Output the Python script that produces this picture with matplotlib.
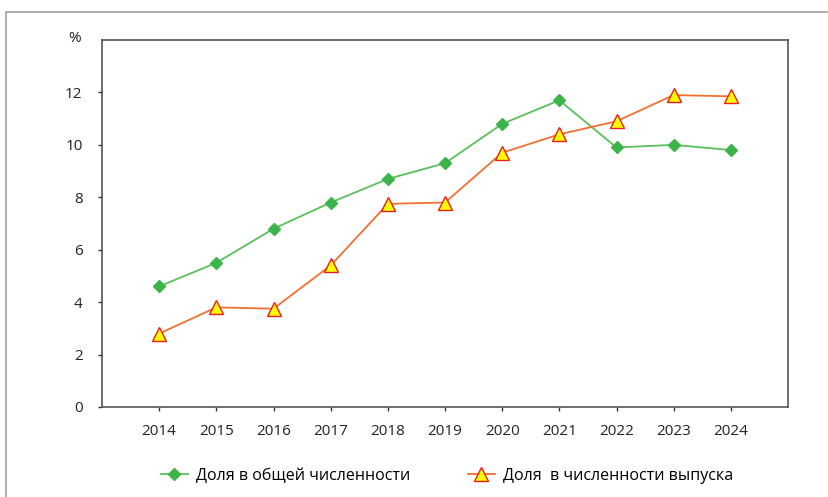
import matplotlib.pyplot as plt
from matplotlib.patches import Rectangle

plt.rcParams['font.family'] = ['Open Sans', 'DejaVu Sans']

years = [2014, 2015, 2016, 2017, 2018, 2019, 2020, 2021, 2022, 2023, 2024]
dolya_obshchey = [4.6, 5.5, 6.8, 7.8, 8.7, 9.3, 10.8, 11.7, 9.9, 10.0, 9.8]
dolya_vypuska = [2.8, 3.8, 3.75, 5.4, 7.75, 7.8, 9.7, 10.4, 10.9, 11.9, 11.85]
yticks = [0, 2, 4, 6, 8, 10, 12]

fig = plt.figure(figsize=(8.29, 4.97), dpi=100)
W, H = 829, 497
ax = fig.add_axes([102 / W, 1 - 407 / H, 686 / W, 367 / H])

# серая рамка вокруг всего рисунка
fig.patches.append(Rectangle((6 / W, -0.1), 1.1, 1 - 12 / H + 0.1,
                             transform=fig.transFigure, fill=False,
                             edgecolor='#a0a0a0', linewidth=1.2))

ax.plot(years, dolya_obshchey, color='#5bbf5b', linewidth=1.3,
        marker='D', markersize=6.3, markerfacecolor='#3cb44a',
        markeredgecolor='#3cb44a', label='Доля в общей численности')
ax.plot(years, dolya_vypuska, color='#f07030', linewidth=1.3,
        marker='^', markersize=10, markerfacecolor='#ffff00',
        markeredgecolor='#ee1c1c', markeredgewidth=1.0,
        label='Доля  в численности выпуска')

ax.set_xlim(2013, 2025)
ax.set_ylim(0, 14)
ax.set_xticks(years)
ax.set_yticks(yticks)
ax.tick_params(axis='both', labelsize=11, color='#333333', length=3,
               width=1, labelcolor='#222222')
ax.tick_params(axis='x', pad=9)
ax.tick_params(axis='y', pad=11)
for s in ax.spines.values():
    s.set_color('#555555')
    s.set_linewidth(1.2)

fig.text(75 / W, 1 - 38 / H, '%', fontsize=11, color='#222222',
         ha='center', va='center')

fig.legend(loc='center', bbox_to_anchor=(447 / W, 1 - 476 / H), ncol=2,
           frameon=False, fontsize=11.5, columnspacing=3.6, handlelength=1.7,
           handletextpad=0.5)

fig.savefig('out.png', dpi=100)
